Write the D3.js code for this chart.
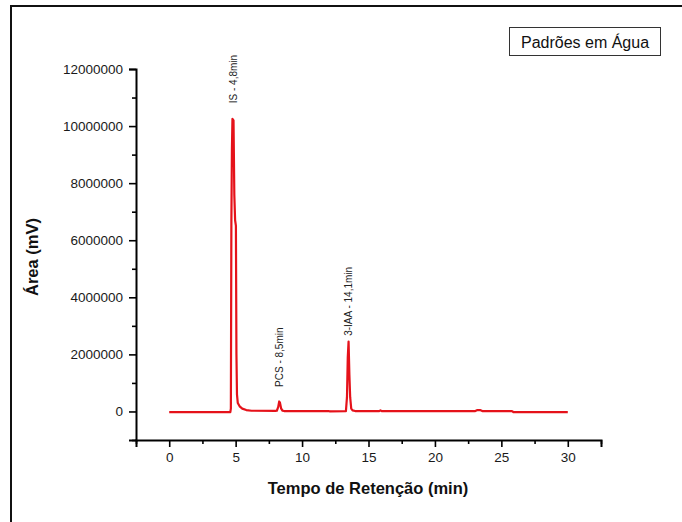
<!DOCTYPE html>
<html>
<head>
<meta charset="utf-8">
<script src="https://cdn.jsdelivr.net/npm/d3@7"></script>
<style>
  body { margin: 0; background: #fff; }
  svg text { font-family: Arial, "Liberation Sans", sans-serif; }
</style>
</head>
<body>
<div id="chart"></div>
<script>
// retention time (min) and area (mV) of the chromatogram trace
const retentionTimes = [
    0, 2, 4.6, 4.64, 4.68, 4.72, 4.76, 4.84, 4.9, 4.96, 5.02, 5.06, 5.1, 5.16, 5.3, 5.5, 5.8, 6.2,
    8.0, 8.1, 8.2, 8.28, 8.34, 8.42, 8.52, 8.65, 12.0, 12.1,
    13.3, 13.38, 13.44, 13.5, 13.56, 13.62, 13.7, 13.8, 14.0,
    15.8, 15.9, 16.0, 23.0, 23.2, 23.4, 23.6, 25.8, 25.9, 30
];
const areaValues = [
    -20000, -20000, -20000, 100000, 6700000, 9200000, 10250000, 10200000, 7600000, 6700000, 6500000, 2000000, 600000, 300000, 180000, 100000, 50000, 25000,
    20000, 25000, 150000, 350000, 300000, 110000, 30000, 15000, 15000, 0,
    10000, 500000, 1900000, 2450000, 1300000, 500000, 100000, 40000, 15000,
    10000, 40000, 10000, 10000, 50000, 50000, 10000, 10000, -20000, -20000
];

// peak annotations
const peakLabels = ['IS - 4,8min', 'PCS - 8,5min', '3-IAA - 14,1min'];
const peakLabelTimes = [4.82, 8.28, 13.53];
const peakLabelAreas = [10800000, 860000, 2650000];

// ticks
const xMajorTicks = [0, 5, 10, 15, 20, 25, 30];
const xMinorTicks = [-2.5, 2.5, 7.5, 12.5, 17.5, 22.5, 27.5, 32.5];
const yMajorTicks = [0, 2000000, 4000000, 6000000, 8000000, 10000000, 12000000];
const yMinorTicks = [-1000000, 1000000, 3000000, 5000000, 7000000, 9000000, 11000000];

const legendText = 'Padrões em Água';
const xTitle = 'Tempo de Retenção (min)';
const yTitle = 'Área (mV)';

const width = 682;
const height = 522;

const svg = d3.select('#chart')
    .append('svg')
    .attr('width', width)
    .attr('height', height);

// outer frame (cut off at the right and bottom edges)
svg.append('rect')
    .attr('x', 11)
    .attr('y', 6)
    .attr('width', 700)
    .attr('height', 560)
    .attr('fill', 'none')
    .attr('stroke', '#111')
    .attr('stroke-width', 2);

const x = d3.scaleLinear()
    .domain([-2.5, 32.5])
    .range([136, 601]);

const y = d3.scaleLinear()
    .domain([-1000000, 12000000])
    .range([440, 69]);

// axes
svg.append('g')
    .attr('transform', `translate(0,${y(-1000000)})`)
    .call(d3.axisBottom(x).tickValues(xMajorTicks).tickSize(7).tickPadding(5).tickFormat(d3.format('d')));

svg.append('g')
    .attr('transform', `translate(0,${y(-1000000)})`)
    .call(d3.axisBottom(x).tickValues(xMinorTicks).tickSize(4).tickFormat(''))
    .call(g => g.select('.domain').remove());

svg.append('g')
    .attr('transform', `translate(${x(-2.5)},0)`)
    .call(d3.axisLeft(y).tickValues(yMajorTicks).tickSize(7).tickPadding(6).tickFormat(d3.format('d')));

svg.append('g')
    .attr('transform', `translate(${x(-2.5)},0)`)
    .call(d3.axisLeft(y).tickValues(yMinorTicks).tickSize(4).tickFormat(''))
    .call(g => g.select('.domain').remove());

svg.selectAll('.domain')
    .attr('stroke', '#000')
    .attr('stroke-width', 2);

svg.selectAll('.tick line')
    .attr('stroke', '#000')
    .attr('stroke-width', 1.6);

svg.selectAll('.tick text')
    .attr('fill', '#1a1a1a')
    .style('font-size', '13.5px');

// chromatogram trace
const trace = retentionTimes.map((t, i) => ({ t: t, v: areaValues[i] }));

const line = d3.line()
    .x(d => x(d.t))
    .y(d => y(d.v));

svg.append('path')
    .datum(trace)
    .attr('d', line)
    .attr('fill', 'none')
    .attr('stroke', '#e5121a')
    .attr('stroke-width', 2.2)
    .attr('stroke-linejoin', 'round');

// peak labels, written upward
svg.selectAll('.peak-label')
    .data(peakLabels)
    .join('text')
    .attr('class', 'peak-label')
    .attr('transform', (d, i) => `translate(${x(peakLabelTimes[i])},${y(peakLabelAreas[i])}) rotate(-90)`)
    .attr('dy', '0.35em')
    .attr('fill', '#222')
    .style('font-size', '10px')
    .text(d => d);

// axis titles
svg.append('text')
    .attr('x', 368)
    .attr('y', 494)
    .attr('text-anchor', 'middle')
    .attr('fill', '#111')
    .style('font-size', '16.5px')
    .style('font-weight', 'bold')
    .text(xTitle);

svg.append('text')
    .attr('transform', `translate(38,257) rotate(-90)`)
    .attr('text-anchor', 'middle')
    .attr('fill', '#111')
    .style('font-size', '16.5px')
    .style('font-weight', 'bold')
    .text(yTitle);

// legend box
svg.append('rect')
    .attr('x', 509.5)
    .attr('y', 27.5)
    .attr('width', 151)
    .attr('height', 28)
    .attr('fill', '#fff')
    .attr('stroke', '#333')
    .attr('stroke-width', 1);

svg.append('text')
    .attr('x', 585)
    .attr('y', 42)
    .attr('dy', '0.35em')
    .attr('text-anchor', 'middle')
    .attr('fill', '#111')
    .style('font-size', '16px')
    .text(legendText);
</script>
</body>
</html>
